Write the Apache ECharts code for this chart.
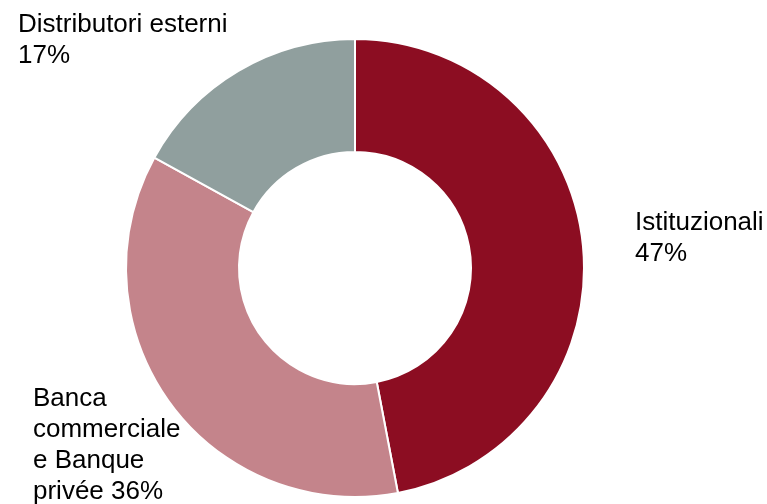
<!DOCTYPE html>
<html>
<head>
<meta charset="utf-8">
<script src="https://cdn.jsdelivr.net/npm/echarts@6/dist/echarts.min.js"></script>
<style>
  html, body { margin: 0; padding: 0; background: #fff; }
  #chart { width: 767px; height: 504px; }
</style>
</head>
<body>
<div id="chart"></div>
<script>
// Distribution channels, share of total (%)
const channels = ['Istituzionali', 'Banca\ncommerciale\ne Banque\nprivée', 'Distributori esterni'];
const shares = [47, 36, 17];
const sliceColors = ['#8C0D22', '#C4848B', '#909F9E'];
// Label separator between name and percentage for each slice
const separators = ['\n', ' ', '\n'];
// Where each label block sits (left x, vertical centre y)
const labelSpots = [[635, 238], [33, 445], [18, 40]];

const chart = echarts.init(document.getElementById('chart'), null, { renderer: 'canvas' });

chart.setOption({
  animation: false,
  series: [{
    type: 'pie',
    center: [355, 268],
    radius: [116, 229],
    startAngle: 90,
    clockwise: true,
    itemStyle: { borderColor: '#ffffff', borderWidth: 2 },
    label: {
      show: true,
      position: 'outside',
      fontFamily: 'Liberation Sans, Arial, sans-serif',
      fontSize: 26,
      lineHeight: 31,
      color: '#000000',
      align: 'left',
      overflow: 'none',
      formatter: p => p.name + separators[p.dataIndex] + p.value + '%'
    },
    labelLine: { show: false },
    labelLayout: p => ({
      x: labelSpots[p.dataIndex][0],
      y: labelSpots[p.dataIndex][1],
      align: 'left',
      verticalAlign: 'middle'
    }),
    emphasis: { disabled: true },
    data: channels.map((name, i) => ({
      name: name,
      value: shares[i],
      itemStyle: { color: sliceColors[i] }
    }))
  }]
});
</script>
</body>
</html>
